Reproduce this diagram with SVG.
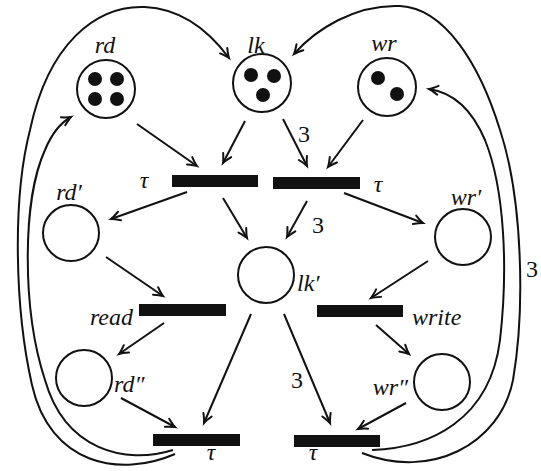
<svg xmlns="http://www.w3.org/2000/svg" width="541" height="471" viewBox="0 0 541 471">
<defs>
<marker id="ah" markerUnits="userSpaceOnUse" viewBox="-11 -6 13 12" refX="0" refY="0" markerWidth="13" markerHeight="12" orient="auto" overflow="visible">
<path d="M -9 -4.5 Q -3 -1 0 0 Q -3 1 -9 4.5" fill="none" stroke="#111" stroke-width="2" stroke-linecap="round"/>
</marker>
</defs>
<g id="connectors" fill="none" stroke="#111" stroke-width="2" marker-end="url(#ah)">
<path d="M137 124 L197 166"/>
<path d="M245 121 L223 163"/>
<path d="M283 119 L307 166"/>
<path d="M363 120 L328 167"/>
<path d="M187 192 L111 219"/>
<path d="M223 198 L247 238"/>
<path d="M307 201 L287 237"/>
<path d="M344 193 L423 223"/>
<path d="M106 257 L163 296"/>
<path d="M428 261 L371 298"/>
<path d="M164 323 L119 354"/>
<path d="M376 325 L409 354"/>
<path d="M121 398 L175 427"/>
<path d="M251 314 L204 423"/>
<path d="M284 314 L330 423"/>
<path d="M406 403 L358 429"/>
<path d="M175 454 C120 478 50 465 32 385 C15 310 12 200 30 130 C48 45 95 5 145 7 C185 9 212 35 229 58"/>
<path d="M173 450 C125 465 65 450 45 380 C22 310 22 200 45 150 C52 133 60 123 71 117"/>
<path d="M372 450 C430 448 490 420 500 340 C508 270 505 190 485 140 C470 105 450 92 429 89"/>
<path d="M362 453 C430 480 500 445 513 380 C525 310 523 200 500 130 C480 65 445 8 400 6 C355 4 315 30 294 54"/>
</g>
<g id="arc_weights" font-family="Times New Roman, Liberation Serif, serif" font-size="24" fill="#111" text-anchor="middle">
<text x="304" y="142">3</text>
<text x="318" y="233">3</text>
<text x="297" y="388">3</text>
<text x="532" y="277">3</text>
</g>
<g id="rd">
<circle cx="106" cy="89" r="29" fill="#fff" stroke="#111" stroke-width="2"/>
<circle cx="95" cy="79" r="7" fill="#111"/>
<circle cx="117" cy="79" r="7" fill="#111"/>
<circle cx="95" cy="99" r="7" fill="#111"/>
<circle cx="117" cy="99" r="7" fill="#111"/>
<text font-family="Times New Roman, Liberation Serif, serif" font-style="italic" font-size="24" fill="#111" text-anchor="middle" x="105" y="53">rd</text>
</g>
<g id="lk">
<circle cx="262" cy="83" r="29" fill="#fff" stroke="#111" stroke-width="2"/>
<circle cx="251" cy="75" r="7" fill="#111"/>
<circle cx="274" cy="76" r="7" fill="#111"/>
<circle cx="263" cy="95" r="7" fill="#111"/>
<text font-family="Times New Roman, Liberation Serif, serif" font-style="italic" font-size="24" fill="#111" text-anchor="middle" x="256" y="53">lk</text>
</g>
<g id="wr">
<circle cx="387" cy="87" r="29" fill="#fff" stroke="#111" stroke-width="2"/>
<circle cx="378" cy="78" r="7" fill="#111"/>
<circle cx="397" cy="94" r="7" fill="#111"/>
<text font-family="Times New Roman, Liberation Serif, serif" font-style="italic" font-size="24" fill="#111" text-anchor="middle" x="384" y="51">wr</text>
</g>
<g id="rd1">
<circle cx="71" cy="233" r="28" fill="#fff" stroke="#111" stroke-width="2"/>
<text font-family="Times New Roman, Liberation Serif, serif" font-style="italic" font-size="24" fill="#111" text-anchor="middle" x="69" y="200">rd&#8242;</text>
</g>
<g id="wr1">
<circle cx="463" cy="237" r="28" fill="#fff" stroke="#111" stroke-width="2"/>
<text font-family="Times New Roman, Liberation Serif, serif" font-style="italic" font-size="24" fill="#111" text-anchor="middle" x="466" y="205">wr&#8242;</text>
</g>
<g id="lk1">
<circle cx="266" cy="275" r="28" fill="#fff" stroke="#111" stroke-width="2"/>
<text font-family="Times New Roman, Liberation Serif, serif" font-style="italic" font-size="24" fill="#111" x="297" y="291">lk&#8242;</text>
</g>
<g id="rd2">
<circle cx="84" cy="378" r="28" fill="#fff" stroke="#111" stroke-width="2"/>
<text font-family="Times New Roman, Liberation Serif, serif" font-style="italic" font-size="24" fill="#111" x="114" y="392">rd&#8243;</text>
</g>
<g id="wr2">
<circle cx="442" cy="382" r="28" fill="#fff" stroke="#111" stroke-width="2"/>
<text font-family="Times New Roman, Liberation Serif, serif" font-style="italic" font-size="24" fill="#111" text-anchor="end" x="408" y="395">wr&#8243;</text>
</g>
<g id="t_acq_rd">
<rect x="172" y="175" width="86" height="12" fill="#111"/>
<text font-family="Times New Roman, Liberation Serif, serif" font-style="italic" font-size="24" fill="#111" text-anchor="middle" x="144" y="188">&#964;</text>
</g>
<g id="t_acq_wr">
<rect x="273" y="177" width="87" height="12" fill="#111"/>
<text font-family="Times New Roman, Liberation Serif, serif" font-style="italic" font-size="24" fill="#111" text-anchor="middle" x="378" y="192">&#964;</text>
</g>
<g id="t_read">
<rect x="139" y="304" width="87" height="12" fill="#111"/>
<text font-family="Times New Roman, Liberation Serif, serif" font-style="italic" font-size="24" fill="#111" text-anchor="end" x="133" y="325">read</text>
</g>
<g id="t_write">
<rect x="317" y="305" width="86" height="12" fill="#111"/>
<text font-family="Times New Roman, Liberation Serif, serif" font-style="italic" font-size="24" fill="#111" x="412" y="325">write</text>
</g>
<g id="t_rel_rd">
<rect x="153" y="434" width="87" height="12" fill="#111"/>
<text font-family="Times New Roman, Liberation Serif, serif" font-style="italic" font-size="24" fill="#111" text-anchor="middle" x="211" y="460">&#964;</text>
</g>
<g id="t_rel_wr">
<rect x="294" y="435" width="86" height="12" fill="#111"/>
<text font-family="Times New Roman, Liberation Serif, serif" font-style="italic" font-size="24" fill="#111" text-anchor="middle" x="313" y="460">&#964;</text>
</g>
</svg>
